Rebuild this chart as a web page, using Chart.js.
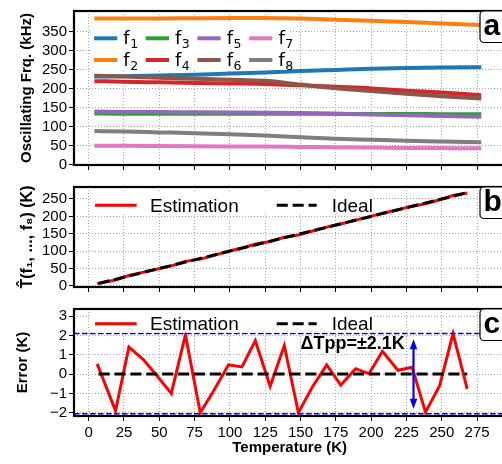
<!DOCTYPE html>
<html><head><meta charset="utf-8">
<script src="https://cdn.jsdelivr.net/npm/chart.js@4/dist/chart.umd.min.js"></script>
<style>
html,body{margin:0;padding:0;background:#fff;overflow:hidden;width:502px;height:464px;position:relative;}
canvas{position:absolute;left:0;}
</style></head><body>
<canvas id="ca" width="520" height="176" style="top:0px;width:520px;height:176px"></canvas>
<canvas id="cb" width="520" height="122" style="top:176px;width:520px;height:122px"></canvas>
<canvas id="cc" width="520" height="166" style="top:298px;width:520px;height:166px"></canvas>
<script>
// ---------- data ----------
const xTicks = [0, 25, 50, 75, 100, 125, 150, 175, 200, 225, 250, 275];
const freqTicks = [0, 50, 100, 150, 200, 250, 300, 350];
const estTicks = [0, 50, 100, 150, 200, 250];
const errTicks = [-2, -1, 0, 1, 2, 3];

const freqLabels = ['f₁', 'f₂', 'f₃', 'f₄', 'f₅', 'f₆', 'f₇', 'f₈'];
const tempsA = [4, 25, 50, 75, 100, 125, 150, 175, 200, 225, 250, 278];
const f1 = [232, 233, 235, 237, 240, 243, 246.5, 249.5, 252.5, 254.5, 256, 257];
const f2 = [385.5, 385.5, 385.5, 386, 386.5, 386.5, 385, 382, 379, 376, 372, 368];
const f3 = [135, 134, 134, 134, 134, 134, 134, 134, 133.5, 133.5, 133, 133];
const f4 = [220, 218.5, 217, 215.5, 214, 212.5, 209, 205, 201, 195, 190, 183];
const f5 = [140, 139, 138.5, 138, 137.5, 137, 136, 134, 132, 130, 128, 126];
const f6 = [234.5, 232, 229, 226.5, 224, 221, 211, 201.5, 194, 187, 180.5, 174];
const f7 = [50, 49.5, 49, 48.5, 48, 47.5, 46.5, 45.5, 45, 44, 43.5, 43];
const f8 = [88.5, 87, 85, 83, 80, 76.5, 72, 68, 65.5, 63, 61, 59];

const tempsEst = [6, 19, 28.5, 39, 48.5, 58.5, 68.5, 79, 88, 99, 108.5, 118, 128.5, 138.5, 148.5, 158.5, 168.5, 178.5, 189, 198.5, 208, 219, 229, 238.5, 248.5, 258, 268];
const estimatedK = [6.5, 17.1, 29.9, 39.7, 48.4, 57.5, 70.5, 77.0, 87.1, 99.5, 108.9, 119.7, 127.9, 140.0, 146.5, 157.9, 169.0, 177.9, 189.3, 198.5, 209.2, 219.2, 229.4, 236.5, 247.9, 260.1, 267.2];
const errorK = [0.53, -1.9, 1.4, 0.73, -0.1, -1.0, 2.03, -2.0, -0.93, 0.48, 0.37, 1.73, -0.63, 1.48, -2.0, -0.65, 0.48, -0.57, 0.28, 0.02, 1.18, 0.2, 0.35, -1.97, -0.6, 2.1, -0.77];
const idealT = [7, 268];
const idealErr = [0, 0];
const bandLevels = [2.1, -2.05];
const annotText = 'ΔTpp=±2.1K';
const annotAt = [150, 1.57];
const arrowAt = [230, -1.8, 1.8];

// ---------- config ----------
const X_MIN = -10.4, X_MAX = 295;
Chart.defaults.color = '#000';
Chart.defaults.font.family = "'Liberation Sans', Arial, sans-serif";
Chart.defaults.font.size = 15;
Chart.defaults.animation = false;

const pts = (xs, ys) => xs.map((x, i) => ({x: x, y: ys[i]}));
const GRID = {color: 'rgba(150,150,150,0.85)', lineWidth: 1, tickLength: 5, tickColor: '#000', tickWidth: 1, drawTicks: true};
const fmt = v => (v < 0 ? '\u2212' + (-v) : String(v));

function xScale(showLabels, height) {
  return {
    type: 'linear', min: X_MIN, max: X_MAX,
    afterBuildTicks: s => { s.ticks = xTicks.map(v => ({value: v})); },
    afterFit: s => { s.height = height; },
    grid: GRID,
    border: {display: false, dash: [1, 2]},
    ticks: {display: showLabels, padding: 3, maxRotation: 0, autoSkip: false, font: {size: 15}},
    title: {display: showLabels, text: 'Temperature (K)', font: {size: 15, weight: 'bold'}, padding: {top: 0, bottom: 7.5}}
  };
}
function yScale(min, max, ticks, title, titlePad, size, family) {
  return {
    type: 'linear', min: min, max: max,
    afterBuildTicks: s => { s.ticks = ticks.map(v => ({value: v})); },
    afterFit: s => { s.width = 74; },
    grid: GRID,
    border: {display: false, dash: [1, 2]},
    ticks: {padding: 2, autoSkip: false, font: {size: 15}, callback: v => fmt(v)},
    title: {display: true, text: title, font: {size: size || 15, weight: 'bold', family: family}, padding: {top: titlePad, bottom: 0}}
  };
}

const subMap = '₀₁₂₃₄₅₆₇₈₉';
const decor = {
  id: 'decor',
  afterDraw(chart, args, o) {
    const ctx = chart.ctx, ca = chart.chartArea;
    const xs = chart.scales.x, ys = chart.scales.y;
    ctx.save();
    // legend background
    const lb = o.legendBox;
    ctx.fillStyle = '#fff';
    ctx.fillRect(ca.left + lb[0], ca.top + lb[1], lb[2], lb[3]);
    // legend items
    o.items.forEach(it => {
      const ds = chart.data.datasets[it.ds];
      const hx = ca.left + it.hx, hy = ca.top + it.hy;
      ctx.beginPath();
      ctx.strokeStyle = ds.borderColor;
      ctx.lineWidth = ds.borderWidth;
      ctx.setLineDash(ds.borderDash || []);
      ctx.lineCap = 'butt';
      ctx.moveTo(hx, hy); ctx.lineTo(hx + it.hl, hy); ctx.stroke();
      ctx.setLineDash([]);
      ctx.fillStyle = '#000';
      ctx.textBaseline = 'alphabetic';
      ctx.textAlign = 'left';
      const tx = ca.left + it.tx, ty = ca.top + it.ty;
      const lab = ds.label;
      if (o.sub) {
        ctx.font = "18px 'DejaVu Sans'";
        ctx.fillText(lab[0], tx, ty);
        const w = ctx.measureText(lab[0]).width;
        const digits = lab.slice(1).split('').map(c => { const k = subMap.indexOf(c); return k >= 0 ? String(k) : c; }).join('');
        ctx.font = "12.5px 'DejaVu Sans'";
        ctx.fillText(digits, tx + w + 0.5, ty + 3.5);
      } else {
        ctx.font = "19px 'Liberation Sans', Arial, sans-serif";
        ctx.fillText(lab, tx, ty);
      }
    });
    // annotation
    if (o.annot) {
      ctx.fillStyle = '#000';
      ctx.font = "bold 18px 'Liberation Sans', Arial, sans-serif";
      ctx.textBaseline = 'middle';
      ctx.textAlign = 'left';
      ctx.fillText(annotText, xs.getPixelForValue(annotAt[0]), ys.getPixelForValue(annotAt[1]));
      const ax = xs.getPixelForValue(arrowAt[0]);
      const y1 = ys.getPixelForValue(arrowAt[1]), y2 = ys.getPixelForValue(arrowAt[2]);
      ctx.strokeStyle = '#0000ff'; ctx.fillStyle = '#0000ff'; ctx.lineWidth = 2.2;
      ctx.beginPath(); ctx.moveTo(ax, y1 - 6); ctx.lineTo(ax, y2 + 6); ctx.stroke();
      ctx.beginPath(); ctx.moveTo(ax, y2); ctx.lineTo(ax - 3.8, y2 + 10); ctx.lineTo(ax + 3.8, y2 + 10); ctx.closePath(); ctx.fill();
      ctx.beginPath(); ctx.moveTo(ax, y1); ctx.lineTo(ax - 3.8, y1 - 10); ctx.lineTo(ax + 3.8, y1 - 10); ctx.closePath(); ctx.fill();
    }
    // frame
    ctx.strokeStyle = '#000'; ctx.lineWidth = 2.2;
    ctx.strokeRect(ca.left, ca.top, ca.right - ca.left, ca.bottom - ca.top);
    // panel letter box
    const bx = ca.left + 406, by = ca.top, bw = 60, bh = 31.5, r = 4;
    ctx.beginPath();
    ctx.moveTo(bx + r, by); ctx.lineTo(bx + bw, by); ctx.lineTo(bx + bw, by + bh);
    ctx.lineTo(bx + r, by + bh); ctx.arcTo(bx, by + bh, bx, by + bh - r, r);
    ctx.lineTo(bx, by + r); ctx.arcTo(bx, by, bx + r, by, r); ctx.closePath();
    ctx.fillStyle = '#fff'; ctx.fill();
    ctx.strokeStyle = '#000'; ctx.lineWidth = 1.2; ctx.stroke();
    ctx.fillStyle = '#000';
    ctx.font = "bold 30px 'Liberation Sans', Arial, sans-serif";
    ctx.textBaseline = 'alphabetic'; ctx.textAlign = 'left';
    ctx.fillText(o.letter, bx + 3.5, by + 24);
    ctx.restore();
  }
};

const lineDs = (label, xs, ys, color, width, dash, extra) => Object.assign({
  label: label, data: pts(xs, ys), borderColor: color, backgroundColor: color,
  borderWidth: width, borderDash: dash || [], pointRadius: 0, fill: false, tension: 0
}, extra || {});

// ---------- panel a ----------
const colors = ['#1f77b4', '#ff7f0e', '#2ca02c', '#d62728', '#9467bd', '#8c564b', '#e377c2', '#7f7f7f'];
const seriesA = [f1, f2, f3, f4, f5, f6, f7, f8];
const itemsA = seriesA.map((s, i) => {
  const col = Math.floor(i / 2), row = i % 2;
  return {ds: i, hx: 20 + col * 51.7, hy: 27.3 + row * 21.7, hl: 23.3, tx: 49.3 + col * 51.7, ty: 33.3 + row * 21.7};
});
new Chart(document.getElementById('ca'), {
  type: 'line',
  data: {datasets: seriesA.map((s, i) => lineDs(freqLabels[i], tempsA, s, colors[i], 4, null, {cubicInterpolationMode: 'monotone', order: seriesA.length - i}))},
  options: {
    responsive: false, devicePixelRatio: 1,
    layout: {padding: {top: 1, left: 0, right: 14.7, bottom: 0}},
    scales: {x: xScale(false, 6.5), y: yScale(-1, 405, freqTicks, 'Oscillating Frq. (kHz)', 18)},
    plugins: {legend: {display: false}, tooltip: {enabled: false},
      decor: {letter: 'a', sub: true, legendBox: [16, 12, 200, 47], items: itemsA}}
  },
  plugins: [decor]
});

// ---------- panel b ----------
new Chart(document.getElementById('cb'), {
  type: 'line',
  data: {datasets: [
    lineDs('Estimation', tempsEst, estimatedK, '#ff0000', 3, null, {order: 2}),
    lineDs('Ideal', idealT, idealT, '#000000', 3, [11.1, 4.8], {order: 1})
  ]},
  options: {
    responsive: false, devicePixelRatio: 1,
    layout: {padding: {top: 6.5, left: 0, right: 14.7, bottom: 0}},
    scales: {x: xScale(false, 5.5), y: yScale(-3.2, 284.5, estTicks, 'T\u0302(f\u2081, ..., f\u2088) (K)', 18, 16, "'Liberation Sans', 'DejaVu Sans', sans-serif")},
    plugins: {legend: {display: false}, tooltip: {enabled: false},
      decor: {letter: 'b', sub: false, legendBox: [16, 4, 282, 23], items: [
        {ds: 0, hx: 21, hy: 18.2, hl: 41.7, tx: 76, ty: 25.2},
        {ds: 1, hx: 202.7, hy: 18.2, hl: 40, tx: 257.7, ty: 25.2}
      ]}}
  },
  plugins: [decor]
});

// ---------- panel c ----------
new Chart(document.getElementById('cc'), {
  type: 'line',
  data: {datasets: [
    lineDs('Estimation', tempsEst, errorK, '#ff0000', 3, null, {order: 3}),
    lineDs('Ideal', idealT, idealErr, '#000000', 3, [11.1, 4.8], {order: 2}),
    lineDs('upper', [X_MIN, X_MAX], [bandLevels[0], bandLevels[0]], '#0000ff', 1.5, [5.6, 2.4], {order: 1}),
    lineDs('lower', [X_MIN, X_MAX], [bandLevels[1], bandLevels[1]], '#0000ff', 1.5, [5.6, 2.4], {order: 1})
  ]},
  options: {
    responsive: false, devicePixelRatio: 1,
    layout: {padding: {top: 8, left: 0, right: 14.7, bottom: 0}},
    scales: {x: xScale(true, 48), y: yScale(-2.17, 3.37, errTicks, 'Error (K)', 13.5)},
    plugins: {legend: {display: false}, tooltip: {enabled: false},
      decor: {letter: 'c', sub: false, annot: true, legendBox: [16, 2, 282, 21.5], items: [
        {ds: 0, hx: 21, hy: 14.7, hl: 41.7, tx: 76, ty: 21.3},
        {ds: 1, hx: 202.7, hy: 14.7, hl: 40, tx: 257.7, ty: 21.3}
      ]}}
  },
  plugins: [decor]
});
</script>
</body></html>
